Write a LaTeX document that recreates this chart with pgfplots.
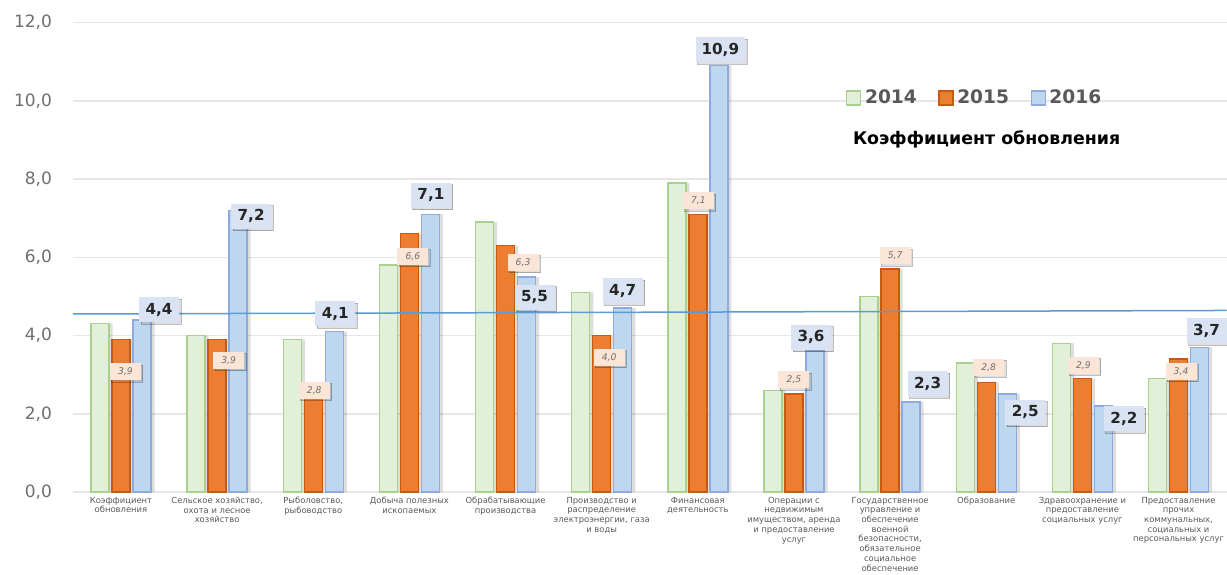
\documentclass[border=0pt]{standalone}
\usepackage{fontspec}
\setmainfont{DejaVu Sans}
\usepackage{pgfplots}
\usepackage{pgfplotstable}
\pgfplotsset{compat=1.18}
\usetikzlibrary{shadows}

\definecolor{g14fill}{HTML}{E2F0D9}
\definecolor{g14line}{HTML}{A9D18E}
\definecolor{o15fill}{HTML}{ED7D31}
\definecolor{o15line}{HTML}{C55A11}
\definecolor{b16fill}{HTML}{BDD7EE}
\definecolor{b16line}{HTML}{8FAADC}
\definecolor{trendblue}{HTML}{5B9BD5}
\definecolor{lblblue}{HTML}{DAE3F3}
\definecolor{lblpeach}{HTML}{FBE5D6}
\definecolor{txtgray}{HTML}{595959}
\definecolor{tickgray}{HTML}{6E6E6E}
\definecolor{gridgray}{HTML}{E6E6E6}

% 2014
\pgfplotstableread{
x y
0 4.3
1 4.0
2 3.9
3 5.8
4 6.9
5 5.1
6 7.9
7 2.6
8 5.0
9 3.3
10 3.8
11 2.9
}\dataA

% 2015 (dx, dy: label offset from bar top, pt)
\pgfplotstableread{
x y dx dy
0 3.9 2.25 -16.15
1 3.9 5.75 -10.4
2 2.8 0.5 -3.85
3 6.6 1.75 -11.25
4 6.3 8.75 -8.5
5 4.0 3.75 -10.85
6 7.1 0.25 6.75
7 2.5 0 7.25
8 5.7 2.5 6.5
9 2.8 1.25 7.65
10 2.9 0.5 6.7
11 3.4 1.25 -6.25
}\dataB

% 2016 (dx, dy: label offset from bar top, pt)
\pgfplotstableread{
x y dx dy
0 4.4 8.5 5
1 7.2 6.5 -3
2 4.1 0.5 9
3 7.1 0.25 9.5
4 5.5 4 -10.2
5 4.7 0 8.7
6 10.9 0.75 8
7 3.6 -2 7
8 2.3 8.25 9.2
9 2.5 9 -9
10 2.2 10.25 -6.5
11 3.7 3.5 8.15
}\dataC

\pgfplotsset{
  /pgf/number format/assume math mode=true,
  barshadow/.style={ybar, bar width=9pt, fill=black, fill opacity=0.13, draw=none, forget plot},
  valuelabel/.style={only marks, mark=*, mark size=0pt, mark options={draw=none, fill=none}, forget plot,
    point meta=y,
    nodes near coords={\pgfmathprintnumber[fixed, fixed zerofill, precision=1, use comma]{\pgfplotspointmeta}},
    visualization depends on={\thisrow{dx} \as \ldx},
    visualization depends on={\thisrow{dy} \as \ldy}},
}

\begin{document}
\begin{tikzpicture}
\begin{axis}[
  scale only axis,
  width=576.85pt, height=234.75pt,
  xmin=-0.5, xmax=11.5, ymin=0, ymax=12,
  axis line style={draw=none},
  major tick length=0pt,
  tick style={draw=none},
  ytick={0,2,...,12},
  scaled ticks=false,
  ymajorgrids,
  grid style={draw=gridgray, line width=0.75pt},
  yticklabel style={/pgf/number format/.cd, fixed, fixed zerofill, precision=1, use comma,
    /tikz/.cd, font=\fontsize{8.5}{10}\selectfont, text=tickgray, inner sep=0pt, xshift=-10.3pt},
  xtick={0,...,11},
  xticklabels={
    {Коэффициент\\обновления},
    {Сельское хозяйство,\\охота и лесное\\хозяйство},
    {Рыболовство,\\рыбоводство},
    {Добыча полезных\\ископаемых},
    {Обрабатывающие\\производства},
    {Производство и\\распределение\\электроэнергии, газа\\и воды},
    {Финансовая\\деятельность},
    {Операции с\\недвижимым\\имуществом, аренда\\и предоставление\\услуг},
    {Государственное\\управление и\\обеспечение\\военной\\безопасности,\\обязательное\\социальное\\обеспечение},
    {Образование},
    {Здравоохранение и\\предоставление\\социальных услуг},
    {Предоставление\\прочих\\коммунальных,\\социальных и\\персональных услуг}},
  xticklabel style={align=center, font=\fontsize{4.2}{4.85}\selectfont, text=txtgray, inner sep=0pt, yshift=-2.3pt},
  legend image code/.code={\draw[#1, line width=0.6pt] (0pt,-3.5pt) rectangle (7pt,3.5pt);},
  legend columns=-1,
  legend style={draw=none, fill=none, at={(rel axis cs:0.670,0.839)}, anchor=west,
    font=\fontsize{9.3}{11}\selectfont\bfseries, text=txtgray, inner sep=0pt,
    nodes={inner sep=1.8pt},
    /tikz/every even column/.append style={column sep=9pt}},
]
% soft shadows to the right of the bars
\addplot[barshadow, bar shift=-8.7pt] table[x=x, y=y] {\dataA};
\addplot[barshadow, bar shift=1.8pt] table[x=x, y=y] {\dataB};
\addplot[barshadow, bar shift=12.3pt] table[x=x, y=y] {\dataC};

% bars
\addplot[ybar, bar width=9pt, bar shift=-10.5pt, fill=g14fill, draw=g14line, line width=0.7pt] table[x=x, y=y] {\dataA};
\addlegendentry{2014}
\addplot[ybar, bar width=9pt, bar shift=0pt, fill=o15fill, draw=o15line, line width=0.7pt] table[x=x, y=y] {\dataB};
\addlegendentry{2015}
\addplot[ybar, bar width=9pt, bar shift=10.5pt, fill=b16fill, draw=b16line, line width=0.7pt] table[x=x, y=y] {\dataC};
\addlegendentry{2016}

% linear trend
\addplot[trendblue, line width=0.75pt, forget plot] coordinates {(-0.5,4.55) (11.5,4.64)};

% value labels
\addplot[valuelabel,
  every node near coord/.style={anchor=center, xshift={\ldx*1pt}, yshift={\ldy*1pt},
    fill=lblpeach, text=tickgray, font=\fontsize{4.6}{5.5}\selectfont\itshape,
    minimum width=15.5pt, minimum height=8.5pt, inner xsep=2pt, inner ysep=0pt,
    drop shadow={shadow xshift=0.9pt, shadow yshift=-0.9pt, opacity=0.25}}]
  table[x=x, y=y] {\dataB};
\addplot[valuelabel,
  every node near coord/.style={anchor=center, xshift={(\ldx+10.5)*1pt}, yshift={\ldy*1pt},
    fill=lblblue, text=black!85, font=\fontsize{7.6}{9}\selectfont\bfseries,
    minimum width=20pt, minimum height=12.5pt, inner xsep=3pt, inner ysep=0pt,
    drop shadow={shadow xshift=1pt, shadow yshift=-1pt, opacity=0.25}}]
  table[x=x, y=y] {\dataC};

\node[font=\fontsize{8.7}{10}\selectfont\bfseries, text=black] at (rel axis cs:0.792,0.750) {Коэффициент обновления};
\end{axis}
\pgfresetboundingbox
\path[use as bounding box] (-36.45pt,-41pt) rectangle (577.05pt,246pt);
\end{tikzpicture}
\end{document}
